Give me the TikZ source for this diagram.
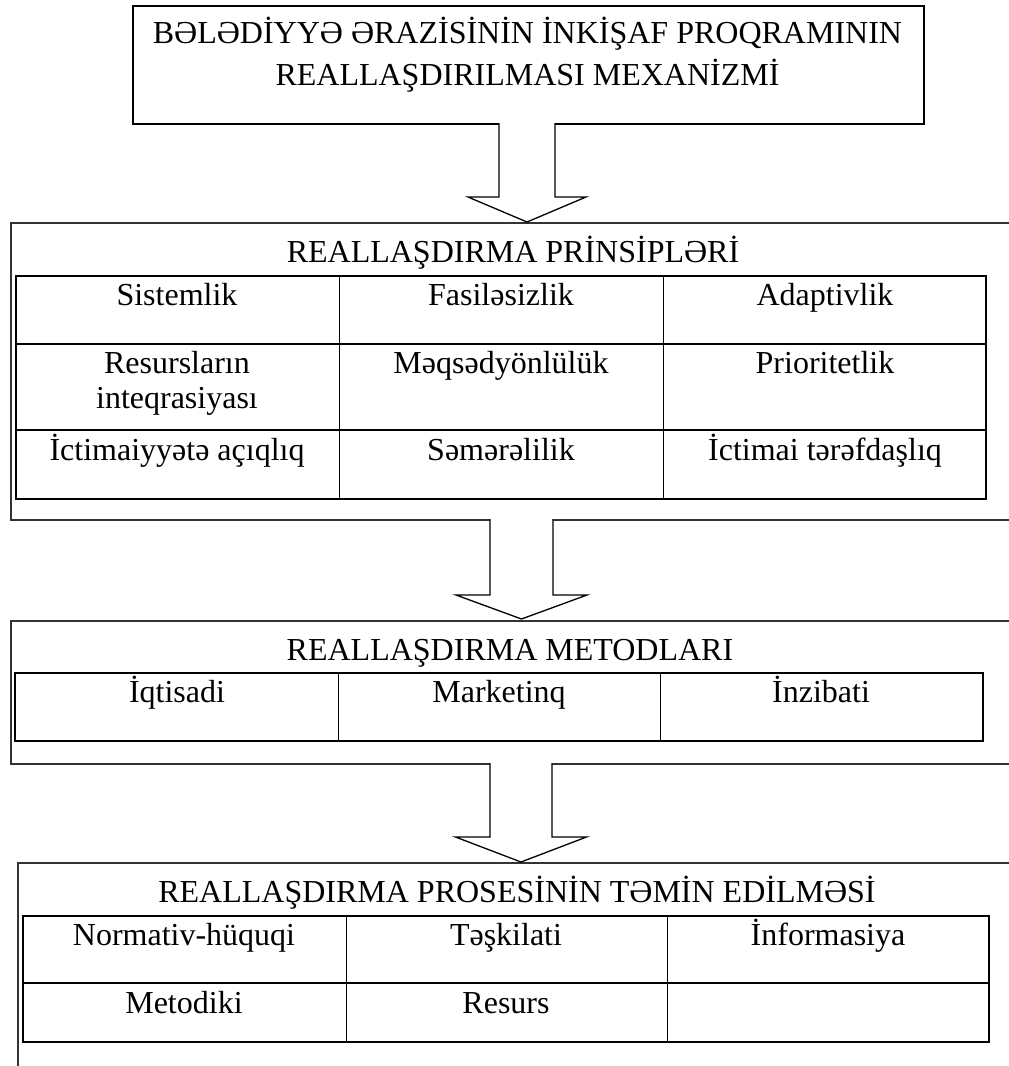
\documentclass[tikz,border=0pt]{standalone}
\usepackage{fontspec}
\setmainfont{Liberation Serif}
\begin{document}
\begin{tikzpicture}[x=1pt,y=-1pt,
  lbl/.style={font=\fontsize{32}{35}\selectfont, inner sep=0pt, anchor=base, align=center},
  headbox/.style={draw, line width=1.5pt, inner sep=0pt},
  outerbox/.style={draw=black!80, line width=1.6pt},
  gridthick/.style={line width=2.3pt},
  gridthin/.style={line width=1pt},
  blockarrow/.style={draw, line width=1.3pt, fill=white, line join=miter}]
\useasboundingbox (0,0) rectangle (1009,1066);
\clip (0,0) rectangle (1009,1066);
\fill[white] (0,0) rectangle (1009,1066);

% block arrow: centre x, top y, tip y, shaft half width, head half width, head length
\newcommand\downarrowblock[6]{%
  \draw[blockarrow] (#1-#4,#2) -- (#1-#4,#3-#6) -- (#1-#5,#3-#6) -- (#1,#3)
    -- (#1+#5,#3-#6) -- (#1+#4,#3-#6) -- (#1+#4,#2);}

% ---- mechanism heading (multi-line nodes sit on the baseline of their last line) ----
\node[headbox, minimum width=791pt, minimum height=118pt, anchor=north west] (mech) at (132,5) {};
\node[lbl, font=\fontsize{32}{42}\selectfont] (mechtext) at (527.5,85)
  {BƏLƏDİYYƏ ƏRAZİSİNİN İNKİŞAF PROQRAMININ\\REALLAŞDIRILMASI MEXANİZMİ};

% ---- principles ----
\node[outerbox, minimum width=1010pt, minimum height=297pt, anchor=north west, inner sep=0pt] (prin) at (10,222) {};
\node[lbl] (printitle) at (513,262) {REALLAŞDIRMA PRİNSİPLƏRİ};
\draw[gridthin] (339,276) -- (339,499) (663,276) -- (663,499);
\draw[gridthick] (16,344) -- (986,344) (16,430) -- (986,430);
\draw[gridthick] (16,276) rectangle (986,499);
\node[lbl] (p11) at (177,305) {Sistemlik};
\node[lbl] (p12) at (501,305) {Fasiləsizlik};
\node[lbl] (p13) at (825,305) {Adaptivlik};
\node[lbl] (p21) at (177,408) {Resursların\\inteqrasiyası};
\node[lbl] (p22) at (501,373) {Məqsədyönlülük};
\node[lbl] (p23) at (825,373) {Prioritetlik};
\node[lbl] (p31) at (177,460) {İctimaiyyətə açıqlıq};
\node[lbl] (p32) at (501,460) {Səmərəlilik};
\node[lbl] (p33) at (825,460) {İctimai tərəfdaşlıq};

% ---- methods ----
\node[outerbox, minimum width=1010pt, minimum height=143pt, anchor=north west, inner sep=0pt] (meth) at (10,620) {};
\node[lbl] (methtitle) at (510,660) {REALLAŞDIRMA METODLARI};
\draw[gridthin] (338,673) -- (338,741) (660,673) -- (660,741);
\draw[gridthick] (15,673) rectangle (983,741);
\node[lbl] (m1) at (177,702) {İqtisadi};
\node[lbl] (m2) at (499,702) {Marketinq};
\node[lbl] (m3) at (821,702) {İnzibati};

% ---- process support ----
\node[outerbox, minimum width=1010pt, minimum height=230pt, anchor=north west, inner sep=0pt] (supp) at (17,862) {};
\node[lbl] (supptitle) at (517,902) {REALLAŞDIRMA PROSESİNİN TƏMİN EDİLMƏSİ};
\draw[gridthin] (346,916) -- (346,1042) (667,916) -- (667,1042);
\draw[gridthick] (23,983) -- (989,983);
\draw[gridthick] (23,916) rectangle (989,1042);
\node[lbl] (s11) at (184,945) {Normativ-hüquqi};
\node[lbl] (s12) at (506,945) {Təşkilati};
\node[lbl] (s13) at (828,945) {İnformasiya};
\node[lbl] (s21) at (184,1013) {Metodiki};
\node[lbl] (s22) at (506,1013) {Resurs};

% ---- arrows between the blocks ----
\downarrowblock{527}{123}{222}{28}{59}{25}
\downarrowblock{521.5}{519}{619}{31.5}{65.5}{24}
\downarrowblock{521}{763}{862}{31}{65.5}{25}
\end{tikzpicture}
\end{document}
